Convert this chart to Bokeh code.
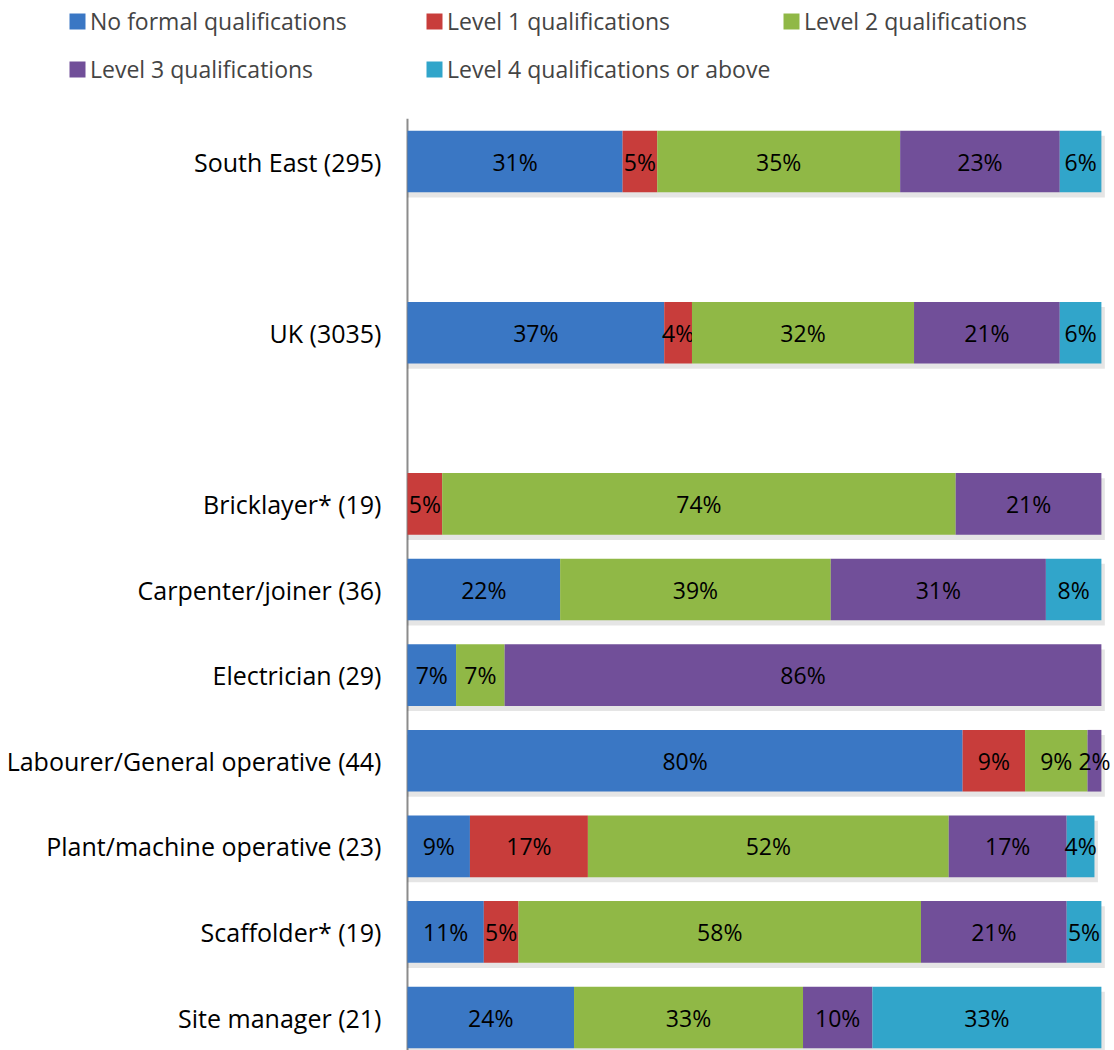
from bokeh.plotting import figure
from bokeh.models import Range1d, Legend, LegendItem, ColumnDataSource
from bokeh.core.properties import value
from bokeh.embed import file_html
from bokeh.resources import INLINE

categories = ["South East (295)", "UK (3035)", "Bricklayer* (19)", "Carpenter/joiner (36)",
              "Electrician (29)", "Labourer/General operative (44)", "Plant/machine operative (23)",
              "Scaffolder* (19)", "Site manager (21)"]
slots = [0, 2, 4, 5, 6, 7, 8, 9, 10]
series = ["No formal qualifications", "Level 1 qualifications", "Level 2 qualifications",
          "Level 3 qualifications", "Level 4 qualifications or above"]
no_formal = [31, 37, 0, 22, 7, 80, 9, 11, 24]
level1 = [5, 4, 5, 0, 0, 9, 17, 5, 0]
level2 = [35, 32, 74, 39, 7, 9, 52, 58, 33]
level3 = [23, 21, 21, 31, 86, 2, 17, 21, 10]
level4 = [6, 6, 0, 8, 0, 0, 4, 5, 33]
colors = ["#3A77C4", "#C83D3B", "#90B846", "#714F99", "#31A5CA"]

FONT = "Open Sans"
FS = "23px"
FS_AXIS = "25px"
values = [no_formal, level1, level2, level3, level4]

Y_TOP, Y_BOTTOM = -1.881, 10.385
p = figure(width=1112, height=1050, output_backend="svg", toolbar_location=None,
           x_range=Range1d(-58.65, 101.6), y_range=Range1d(Y_BOTTOM, Y_TOP),
           min_border=0)
p.outline_line_color = None
p.grid.visible = False
p.axis.visible = False

# category labels and axis line
p.text(x=0, y=slots, text=categories, text_align="right", text_baseline="middle",
       x_offset=-26, text_font=value(FONT), text_font_size=FS_AXIS, text_color="#000000")
p.segment(x0=[0], y0=[-0.5], x1=[0], y1=[Y_BOTTOM], line_color="#8C8C8C", line_width=2)

totals = [sum(v[i] for v in values) for i in range(len(categories))]
p.hbar(y=[s + 0.06 for s in slots], left=0, right=[t + 0.5 for t in totals], height=0.72,
       fill_color="#000000", fill_alpha=0.10, line_color=None)

items = []
left = [0] * len(categories)
for name, vals, col in zip(series, values, colors):
    right = [l + v for l, v in zip(left, vals)]
    src = ColumnDataSource(dict(y=slots, left=left, right=right))
    r = p.hbar(y="y", left="left", right="right", height=0.72, source=src,
               fill_color=col, line_color=None)
    items.append(LegendItem(label=name, renderers=[r]))
    lx, ly, lt = [], [], []
    for i, v in enumerate(vals):
        if v > 0:
            lx.append((left[i] + right[i]) / 2)
            ly.append(slots[i])
            lt.append(f"{v}%")
    p.text(x=lx, y=ly, text=lt, text_align="center", text_baseline="middle",
           text_font=value(FONT), text_font_size=FS, text_color="#000000")
    left = right

# legend fills column by column: reorder so rows read like the reference
legend_items = [items[0], items[3], items[1], items[4], items[2]]
legend = Legend(items=legend_items, ncols=3, location=(67, 959),
                glyph_width=20, glyph_height=20, label_standoff=3,
                label_width=330, label_height=44, spacing=4,
                label_text_font=FONT, label_text_font_size=FS,
                padding=0, margin=0, border_line_color=None, background_fill_alpha=0)
p.add_layout(legend, "center")

open("out.html", "w").write(file_html(p, INLINE))
